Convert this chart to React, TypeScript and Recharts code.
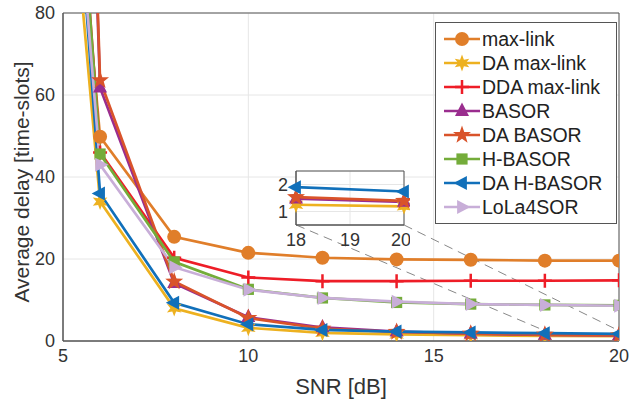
import {
  LineChart, Line, XAxis, YAxis, CartesianGrid, ReferenceLine, ReferenceArea, Legend,
} from 'recharts';

// SNR [dB] sample points
const SNR = [5, 6, 8, 10, 12, 14, 16, 18, 20];

// average delay [time-slots] per scheme (first point leaves the top of the plot)
const MAX_LINK = [150, 49.8, 25.4, 21.5, 20.3, 19.9, 19.8, 19.6, 19.6];
const DA_MAX_LINK = [135, 34, 8.0, 3.2, 2.0, 1.6, 1.4, 1.25, 1.19];
const DDA_MAX_LINK = [170, 46, 20.3, 15.5, 14.6, 14.6, 14.7, 14.7, 14.8];
const BASOR = [330, 61.8, 14.1, 5.8, 3.3, 2.3, 1.8, 1.48, 1.36];
const DA_BASOR = [340, 63.6, 14.5, 5.6, 3.0, 2.2, 1.8, 1.53, 1.39];
const H_BASOR = [170, 45.6, 19.3, 12.6, 10.5, 9.4, 9.0, 8.8, 8.7];
const DA_H_BASOR = [158, 36, 9.3, 4.1, 2.7, 2.3, 2.1, 1.9, 1.74];
const LOLA4SOR = [152, 43, 18.0, 12.5, 10.5, 9.6, 9.0, 8.8, 8.6];

const X_TICKS = [5, 10, 15, 20];
const Y_TICKS = [0, 20, 40, 60, 80];
const INSET_X_TICKS = [18, 19, 20];
const INSET_Y_TICKS = [1, 2];

// zoomed region and where the inset sits, in main-axis units
const ZOOM_BOX = { x1: 18, x2: 20, y1: 0.5, y2: 2.5 };
const INSET_CORNERS = { left: 11.29, right: 14.2, bottom: 28.3 };

type Shape = 'circle' | 'hexagram' | 'plus' | 'up' | 'pentagram' | 'square' | 'left' | 'right';

const SERIES: { key: string; label: string; color: string; shape: Shape; values: number[] }[] = [
  { key: 'maxLink', label: 'max-link', color: '#E07E2A', shape: 'circle', values: MAX_LINK },
  { key: 'daMaxLink', label: 'DA max-link', color: '#EDB120', shape: 'hexagram', values: DA_MAX_LINK },
  { key: 'ddaMaxLink', label: 'DDA max-link', color: '#EE1D27', shape: 'plus', values: DDA_MAX_LINK },
  { key: 'basor', label: 'BASOR', color: '#9A2D8E', shape: 'up', values: BASOR },
  { key: 'daBasor', label: 'DA BASOR', color: '#D9532A', shape: 'pentagram', values: DA_BASOR },
  { key: 'hBasor', label: 'H-BASOR', color: '#74AC3A', shape: 'square', values: H_BASOR },
  { key: 'daHBasor', label: 'DA H-BASOR', color: '#1170BA', shape: 'left', values: DA_H_BASOR },
  { key: 'lola', label: 'LoLa4SOR', color: '#C8AED8', shape: 'right', values: LOLA4SOR },
];

const INSET_KEYS = ['daMaxLink', 'basor', 'daBasor', 'daHBasor'];

const rows = SNR.map((snr, i) => {
  const row: Record<string, number> = { snr };
  SERIES.forEach((s) => { row[s.key] = s.values[i]; });
  return row;
});
const insetRows = rows.filter((r) => r.snr >= ZOOM_BOX.x1);

const FONT = '"Liberation Sans", Arial, Helvetica, sans-serif';
const AXIS = '#555';
const TEXT = '#333';

function starPoints(cx: number, cy: number, n: number, outer: number, inner: number) {
  const pts: string[] = [];
  for (let i = 0; i < n * 2; i++) {
    const r = i % 2 === 0 ? outer : inner;
    const a = -Math.PI / 2 + (i * Math.PI) / n;
    pts.push(`${cx + r * Math.cos(a)},${cy + r * Math.sin(a)}`);
  }
  return pts.join(' ');
}

function Marker({ cx, cy, shape, color, s = 7 }: { cx: number; cy: number; shape: Shape; color: string; s?: number }) {
  switch (shape) {
    case 'circle':
      return <circle cx={cx} cy={cy} r={s} fill={color} />;
    case 'hexagram':
      return <polygon points={starPoints(cx, cy, 6, s * 1.2, s * 0.55)} fill={color} />;
    case 'pentagram':
      return <polygon points={starPoints(cx, cy, 5, s * 1.35, s * 0.55)} fill={color} />;
    case 'plus':
      return (
        <path d={`M${cx - s},${cy}H${cx + s}M${cx},${cy - s}V${cy + s}`} stroke={color} strokeWidth={2.5} />
      );
    case 'square':
      return <rect x={cx - s * 0.8} y={cy - s * 0.8} width={s * 1.6} height={s * 1.6} fill={color} />;
    case 'up':
      return <polygon points={`${cx},${cy - s * 1.2} ${cx - s},${cy + s * 0.7} ${cx + s},${cy + s * 0.7}`} fill={color} />;
    case 'left':
      return <polygon points={`${cx - s * 1.2},${cy} ${cx + s * 0.7},${cy - s} ${cx + s * 0.7},${cy + s}`} fill={color} />;
    case 'right':
      return <polygon points={`${cx + s * 1.2},${cy} ${cx - s * 0.7},${cy - s} ${cx - s * 0.7},${cy + s}`} fill={color} />;
  }
}

const makeDot = (shape: Shape, color: string, max: number) => (p: any) => {
  const v = p.payload?.[p.dataKey];
  if (p.cx == null || p.cy == null || v > max) return <g key={p.index} />;
  return <Marker key={p.index} cx={p.cx} cy={p.cy} shape={shape} color={color} />;
};

function LegendBox() {
  return (
    <div
      style={{
        background: '#fff', border: `1px solid ${AXIS}`, padding: '4px 4px 4px 8px',
        fontFamily: FONT, fontSize: 19.5, color: '#222', boxSizing: 'border-box', width: 182,
      }}
    >
      {SERIES.map((s) => (
        <div key={s.key} style={{ display: 'flex', alignItems: 'center', height: 24, whiteSpace: 'nowrap' }}>
          <svg width={36} height={22} style={{ marginRight: 2, flex: 'none' }}>
            <line x1={0} y1={11} x2={36} y2={11} stroke={s.color} strokeWidth={2.5} />
            <Marker cx={18} cy={11} shape={s.shape} color={s.color} />
          </svg>
          <span>{s.label}</span>
        </div>
      ))}
    </div>
  );
}

export default function App() {
  return (
    <div style={{ position: 'absolute', left: 0, top: 0, width: 629, height: 400, fontFamily: FONT, background: '#fff' }}>
      <LineChart width={629} height={400} data={rows} margin={{ top: 13, right: 10, left: 8, bottom: 9 }}>
        <CartesianGrid stroke="#E6E6E6" />
        <XAxis
          dataKey="snr" type="number" domain={[5, 20]} ticks={X_TICKS} allowDataOverflow
          tickLine={false} axisLine={{ stroke: AXIS }} height={50}
          tick={{ fill: TEXT, fontSize: 18 }}
          label={{ value: 'SNR [dB]', position: 'insideBottom', offset: -3, fill: TEXT, fontSize: 22 }}
        />
        <YAxis
          type="number" domain={[0, 80]} ticks={Y_TICKS} allowDataOverflow
          tickLine={false} axisLine={{ stroke: AXIS }} width={55}
          tick={{ fill: TEXT, fontSize: 18 }}
          label={{ value: 'Average delay [time-slots]', angle: -90, position: 'center', dx: -14, dy: 5, fill: TEXT, fontSize: 21 }}
        />
        <ReferenceArea x1={5} x2={20} y1={0} y2={80} fill="none" stroke={AXIS} strokeWidth={1} />
        <ReferenceLine
          segment={[{ x: INSET_CORNERS.left, y: INSET_CORNERS.bottom }, { x: ZOOM_BOX.x1, y: ZOOM_BOX.y2 }]}
          stroke="#888" strokeDasharray="9 6" ifOverflow="visible"
        />
        <ReferenceLine
          segment={[{ x: INSET_CORNERS.right, y: INSET_CORNERS.bottom }, { x: ZOOM_BOX.x2, y: ZOOM_BOX.y2 }]}
          stroke="#888" strokeDasharray="9 6" ifOverflow="visible"
        />
        {SERIES.map((s) => (
          <Line
            key={s.key} dataKey={s.key} name={s.label} stroke={s.color} strokeWidth={2.7}
            type="linear" dot={makeDot(s.shape, s.color, 80)} activeDot={false}
            isAnimationActive={false}
          />
        ))}
        <Legend
          layout="vertical" align="center" verticalAlign="middle"
          wrapperStyle={{ left: 435, top: 22, width: 182, height: 200 }}
          content={() => <LegendBox />}
        />
      </LineChart>

      <div style={{ position: 'absolute', left: 262, top: 161, width: 148, height: 96 }}>
        <LineChart width={148} height={96} data={insetRows} margin={{ top: 10, right: 6, left: 0, bottom: 0 }}>
          <CartesianGrid stroke="#E6E6E6" fill="#fff" />
          <XAxis
            dataKey="snr" type="number" domain={[ZOOM_BOX.x1, ZOOM_BOX.x2]} ticks={INSET_X_TICKS}
            tickLine={false} axisLine={{ stroke: AXIS }} height={32} tick={{ fill: TEXT, fontSize: 18 }}
          />
          <YAxis
            type="number" domain={[ZOOM_BOX.y1, ZOOM_BOX.y2]} ticks={INSET_Y_TICKS} allowDataOverflow
            tickLine={false} axisLine={{ stroke: AXIS }} width={34} tick={{ fill: TEXT, fontSize: 18 }}
          />
          <ReferenceArea x1={ZOOM_BOX.x1} x2={ZOOM_BOX.x2} y1={ZOOM_BOX.y1} y2={ZOOM_BOX.y2} fill="none" stroke={AXIS} />
          {SERIES.filter((s) => INSET_KEYS.includes(s.key)).map((s) => (
            <Line
              key={s.key} dataKey={s.key} stroke={s.color} strokeWidth={2.7} type="linear"
              dot={makeDot(s.shape, s.color, ZOOM_BOX.y2)} activeDot={false} isAnimationActive={false}
            />
          ))}
        </LineChart>
      </div>
    </div>
  );
}
